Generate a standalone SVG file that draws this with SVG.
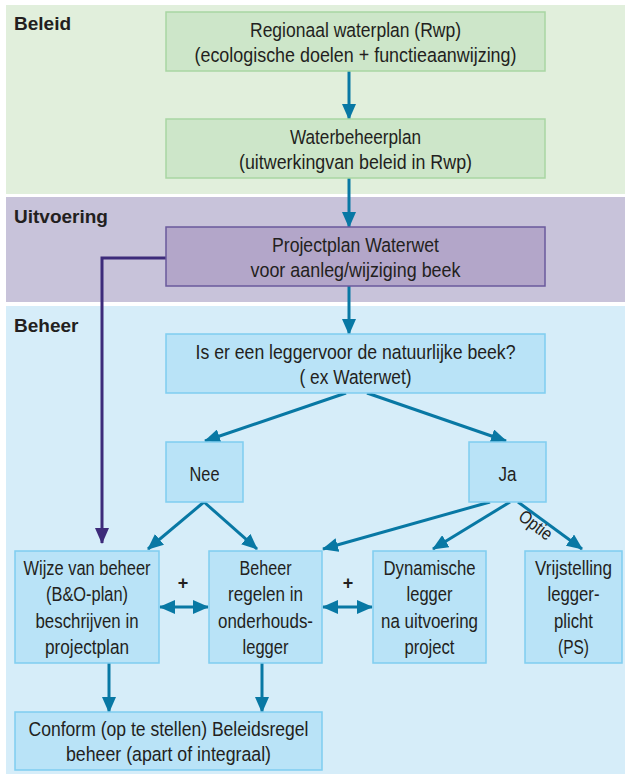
<svg xmlns="http://www.w3.org/2000/svg" width="625" height="776" viewBox="0 0 625 776">
<style>
.t{font-family:"Liberation Sans",Arial,sans-serif;font-size:20.5px;fill:#231f20;text-anchor:middle}
.lbl{font-family:"Liberation Sans",Arial,sans-serif;font-size:19px;font-weight:bold;fill:#231f20}
.plus{font-family:"Liberation Sans",Arial,sans-serif;font-size:18px;font-weight:bold;fill:#231f20;text-anchor:middle}
.g{fill:#cde6c9;stroke:#a8d6a2;stroke-width:1.5}
.p{fill:#b3a6c9;stroke:#6a5a9c;stroke-width:1.5}
.b{fill:#b9e3f7;stroke:#7fcdf0;stroke-width:1.5}
.c{stroke:#0878a4;stroke-width:3;fill:none;marker-end:url(#ah)}
.d{stroke:#0878a4;stroke-width:3;fill:none;marker-end:url(#ah);marker-start:url(#ah)}
.pc{stroke:#3d2b7a;stroke-width:3;fill:none;marker-end:url(#ahp)}
</style>
<defs>
<marker id="ah" viewBox="0 0 16 14" refX="15" refY="7" markerWidth="16" markerHeight="14" markerUnits="userSpaceOnUse" orient="auto-start-reverse"><path d="M0,0 L16,7 L0,14 z" fill="#0878a4"/></marker>
<marker id="ahp" viewBox="0 0 16 14" refX="15" refY="7" markerWidth="16" markerHeight="14" markerUnits="userSpaceOnUse" orient="auto"><path d="M0,0 L16,7 L0,14 z" fill="#3d2b7a"/></marker>
</defs>
<rect x="0" y="0" width="625" height="776" fill="#ffffff"/>
<g id="bands">
<rect x="6" y="5" width="619" height="189" fill="#e1efdc"/>
<rect x="6" y="197" width="619" height="105" fill="#c8c3da"/>
<rect x="6" y="306" width="619" height="468" fill="#d6edf9"/>
<text class="lbl" x="14" y="30">Beleid</text>
<text class="lbl" x="14" y="223">Uitvoering</text>
<text class="lbl" x="14" y="332">Beheer</text>
</g>
<g id="connectors">
<path class="c" d="M349,71 V119"/>
<path class="c" d="M349,178 V227"/>
<path class="c" d="M349,286 V334"/>
<path class="pc" d="M166,258 H102 V543"/>
<path class="c" d="M346,393 L205,441"/>
<path class="c" d="M367,393 L506,441"/>
<path class="c" d="M204,502 L148,549"/>
<path class="c" d="M204,502 L257,549"/>
<path class="c" d="M490,502 L323,549"/>
<path class="c" d="M510,502 L433,549"/>
<path class="c" d="M518,502 L582,549"/>
<path class="d" d="M160,607 H208"/>
<path class="d" d="M323,607 H372"/>
<path class="c" d="M109,663 V712"/>
<path class="c" d="M262,663 V712"/>
<text class="t" style="font-size:18px" x="0" y="5" textLength="37" lengthAdjust="spacingAndGlyphs" transform="translate(535,526) rotate(37)">Optie</text>
<text class="plus" x="183" y="589">+</text>
<text class="plus" x="348" y="589">+</text>
</g>
<g id="n1"><rect class="g" x="166" y="12" width="379" height="59"/>
<text class="t" x="355.5" y="37" textLength="211" lengthAdjust="spacingAndGlyphs">Regionaal waterplan (Rwp)</text>
<text class="t" x="355.5" y="62" textLength="322" lengthAdjust="spacingAndGlyphs">(ecologische doelen + functieaanwijzing)</text></g>
<g id="n2"><rect class="g" x="166" y="119" width="379" height="59"/>
<text class="t" x="355.5" y="144" textLength="131" lengthAdjust="spacingAndGlyphs">Waterbeheerplan</text>
<text class="t" x="355.5" y="169" textLength="233" lengthAdjust="spacingAndGlyphs">(uitwerkingvan beleid in Rwp)</text></g>
<g id="n3"><rect class="p" x="166" y="227" width="379" height="59"/>
<text class="t" x="355.5" y="252" textLength="167" lengthAdjust="spacingAndGlyphs">Projectplan Waterwet</text>
<text class="t" x="355.5" y="277" textLength="210" lengthAdjust="spacingAndGlyphs">voor aanleg/wijziging beek</text></g>
<g id="n4"><rect class="b" x="166" y="334" width="379" height="59"/>
<text class="t" x="355.5" y="359" textLength="320" lengthAdjust="spacingAndGlyphs">Is er een leggervoor de natuurlijke beek?</text>
<text class="t" x="355.5" y="384" textLength="112" lengthAdjust="spacingAndGlyphs">( ex Waterwet)</text></g>
<g id="n5"><rect class="b" x="166" y="442" width="77" height="60"/>
<text class="t" x="204.5" y="481" textLength="30" lengthAdjust="spacingAndGlyphs">Nee</text></g>
<g id="n6"><rect class="b" x="469" y="442" width="77" height="60"/>
<text class="t" x="507.5" y="481" textLength="18" lengthAdjust="spacingAndGlyphs">Ja</text></g>
<g id="n7"><rect class="b" x="15" y="551" width="144" height="112"/>
<text class="t" x="87" y="575" textLength="127" lengthAdjust="spacingAndGlyphs">Wijze van beheer</text>
<text class="t" x="87" y="601" textLength="82" lengthAdjust="spacingAndGlyphs">(B&amp;O-plan)</text>
<text class="t" x="87" y="628" textLength="103" lengthAdjust="spacingAndGlyphs">beschrijven in</text>
<text class="t" x="87" y="654" textLength="84" lengthAdjust="spacingAndGlyphs">projectplan</text></g>
<g id="n8"><rect class="b" x="209" y="551" width="113" height="112"/>
<text class="t" x="265.5" y="575" textLength="52" lengthAdjust="spacingAndGlyphs">Beheer</text>
<text class="t" x="265.5" y="601" textLength="75" lengthAdjust="spacingAndGlyphs">regelen in</text>
<text class="t" x="265.5" y="628" textLength="95" lengthAdjust="spacingAndGlyphs">onderhouds-</text>
<text class="t" x="265.5" y="654" textLength="46" lengthAdjust="spacingAndGlyphs">legger</text></g>
<g id="n9"><rect class="b" x="373" y="551" width="113" height="112"/>
<text class="t" x="429.5" y="575" textLength="92" lengthAdjust="spacingAndGlyphs">Dynamische</text>
<text class="t" x="429.5" y="601" textLength="46" lengthAdjust="spacingAndGlyphs">legger</text>
<text class="t" x="429.5" y="628" textLength="97" lengthAdjust="spacingAndGlyphs">na uitvoering</text>
<text class="t" x="429.5" y="654" textLength="50" lengthAdjust="spacingAndGlyphs">project</text></g>
<g id="n10"><rect class="b" x="525" y="551" width="97" height="112"/>
<text class="t" x="573.5" y="575" textLength="77" lengthAdjust="spacingAndGlyphs">Vrijstelling</text>
<text class="t" x="573.5" y="601" textLength="52" lengthAdjust="spacingAndGlyphs">legger-</text>
<text class="t" x="573.5" y="628" textLength="39" lengthAdjust="spacingAndGlyphs">plicht</text>
<text class="t" x="573.5" y="654" textLength="31" lengthAdjust="spacingAndGlyphs">(PS)</text></g>
<g id="n11"><rect class="b" x="15" y="712" width="307" height="58"/>
<text class="t" x="168.5" y="736" textLength="280" lengthAdjust="spacingAndGlyphs">Conform (op te stellen) Beleidsregel</text>
<text class="t" x="168.5" y="761" textLength="205" lengthAdjust="spacingAndGlyphs">beheer (apart of integraal)</text></g>
</svg>
